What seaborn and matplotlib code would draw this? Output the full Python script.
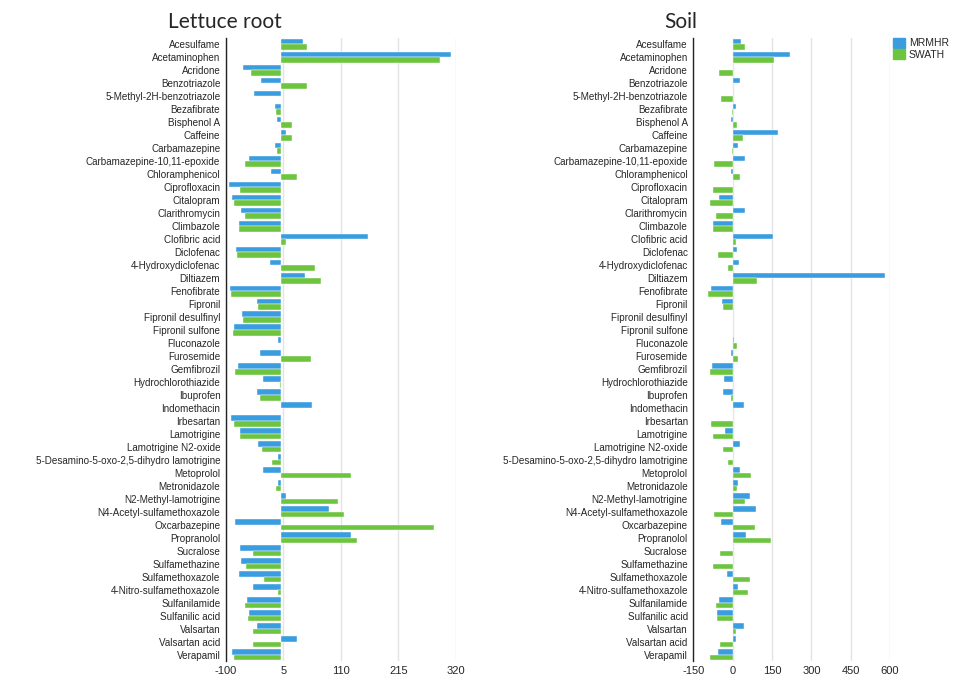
import numpy as np
import matplotlib
matplotlib.use("Agg")
import matplotlib.pyplot as plt
import pandas as pd
import seaborn as sns

compounds = [
    "Acesulfame", "Acetaminophen", "Acridone", "Benzotriazole", "5-Methyl-2H-benzotriazole",
    "Bezafibrate", "Bisphenol A", "Caffeine", "Carbamazepine", "Carbamazepine-10,11-epoxide",
    "Chloramphenicol", "Ciprofloxacin", "Citalopram", "Clarithromycin", "Climbazole",
    "Clofibric acid", "Diclofenac", "4-Hydroxydiclofenac", "Diltiazem", "Fenofibrate",
    "Fipronil", "Fipronil desulfinyl", "Fipronil sulfone", "Fluconazole", "Furosemide",
    "Gemfibrozil", "Hydrochlorothiazide", "Ibuprofen", "Indomethacin", "Irbesartan",
    "Lamotrigine", "Lamotrigine N2-oxide", "5-Desamino-5-oxo-2,5-dihydro lamotrigine",
    "Metoprolol", "Metronidazole", "N2-Methyl-lamotrigine", "N4-Acetyl-sulfamethoxazole",
    "Oxcarbazepine", "Propranolol", "Sucralose", "Sulfamethazine", "Sulfamethoxazole",
    "4-Nitro-sulfamethoxazole", "Sulfanilamide", "Sulfanilic acid", "Valsartan",
    "Valsartan acid", "Verapamil",
]

# lettuce root
root_mrmhr = [40, 311, -68, -35, -49, -10, -7, 10, -11, -58, -17, -94, -89, -73, -76, 159,
              -81, -20, 44, -92, -43, -71, -86, -4, -38, -78, -33, -44, 58, -91, -74, -41,
              -4, -33, -5, 10, 89, -83, 129, -74, -73, -76, -51, -62, -57, -44, 29, -89]
root_swath = [48, 291, -55, 48, 0, -8, 20, 20, -6, -66, 29, -75, -86, -65, -76, 10,
              -79, 63, 74, -91, -41, -69, -87, 0, 55, -84, -2, -37, 0, -86, -74, -34,
              -15, 128, -8, 104, 116, 281, 139, -50, -63, -30, -5, -66, -60, -51, -50, -85]

# soil
soil_mrmhr = [30, 220, 0, 29, 0, 13, -6, 172, 19, 48, -6, 0, -52, 47, -74, 152,
              15, 23, 581, -84, -39, 0, 0, 5, -6, -79, -32, -36, 44, 0, -29, 28,
              0, 28, 19, 65, 90, -43, 52, 0, 0, -22, 20, -52, -60, 43, 11, -56]
soil_swath = [47, 159, -53, 0, -43, -4, 17, 39, -4, -72, 27, -76, -88, -65, -74, 11,
              -55, -19, 93, -94, -38, 0, 0, 17, 22, -85, 0, -6, 0, -83, -75, -36,
              -19, 69, 18, 46, -72, 84, 147, -47, -75, 66, 57, -65, -61, 13, -47, -88]

root_ticks = [-100, 5, 110, 215, 320]
soil_ticks = [-150, 0, 150, 300, 450, 600]

palette = {"MRMHR": "#3a9de0", "SWATH": "#6cc43f"}


def long_form(mrmhr, swath):
    d = pd.DataFrame({"compound": compounds, "MRMHR": mrmhr, "SWATH": swath})
    return d.melt(id_vars="compound", var_name="method", value_name="value")


sns.set_theme(style="white")
plt.rcParams["font.family"] = ["Liberation Sans", "DejaVu Sans"]

fig = plt.figure(figsize=(9.78, 6.78), dpi=100)
ax1 = fig.add_axes([0.231, 0.0245, 0.235, 0.92])
ax2 = fig.add_axes([0.709, 0.0245, 0.201, 0.92])

panels = [
    (ax1, long_form(root_mrmhr, root_swath), root_ticks, (-100, 320)),
    (ax2, long_form(soil_mrmhr, soil_swath), soil_ticks, (-150, 600)),
]
for ax, d, ticks, lim in panels:
    sns.barplot(data=d, y="compound", x="value", hue="method", palette=palette,
                orient="h", width=0.85, saturation=1, edgecolor="white", linewidth=0.3,
                legend=False, ax=ax, zorder=3)
    ax.set_xlim(*lim)
    ax.set_xticks(ticks)
    ax.set_xticklabels([str(t) for t in ticks], fontsize=8)
    ax.set_ylim(len(compounds) - 0.5, -0.5)
    ax.set_xlabel("")
    ax.set_ylabel("")
    ax.tick_params(axis="y", length=0, labelsize=7.1, pad=4)
    ax.tick_params(axis="x", length=0, pad=3)
    ax.grid(axis="x", color="#e3e3e3", linewidth=1.0, zorder=0)
    for s in ["top", "right", "bottom"]:
        ax.spines[s].set_visible(False)
    ax.spines["left"].set_color("#222222")
    ax.spines["left"].set_linewidth(1.0)
    ax.spines["left"].set_zorder(4)

fig.text(0.230, 0.968, "Lettuce root", ha="center", va="center", fontsize=15, family=["Lato", "DejaVu Sans"])
fig.text(0.696, 0.968, "Soil", ha="center", va="center", fontsize=15, family=["Lato", "DejaVu Sans"])

handles = [plt.Rectangle((0, 0), 1, 1, color=palette[k]) for k in palette]
fig.legend(handles, list(palette), loc="upper left", bbox_to_anchor=(0.906, 0.955),
           frameon=False, fontsize=7.5, handlelength=1.1, handleheight=1.1,
           handletextpad=0.4, labelspacing=0.1, borderpad=0.2)

fig.savefig("out.png", dpi=100)
